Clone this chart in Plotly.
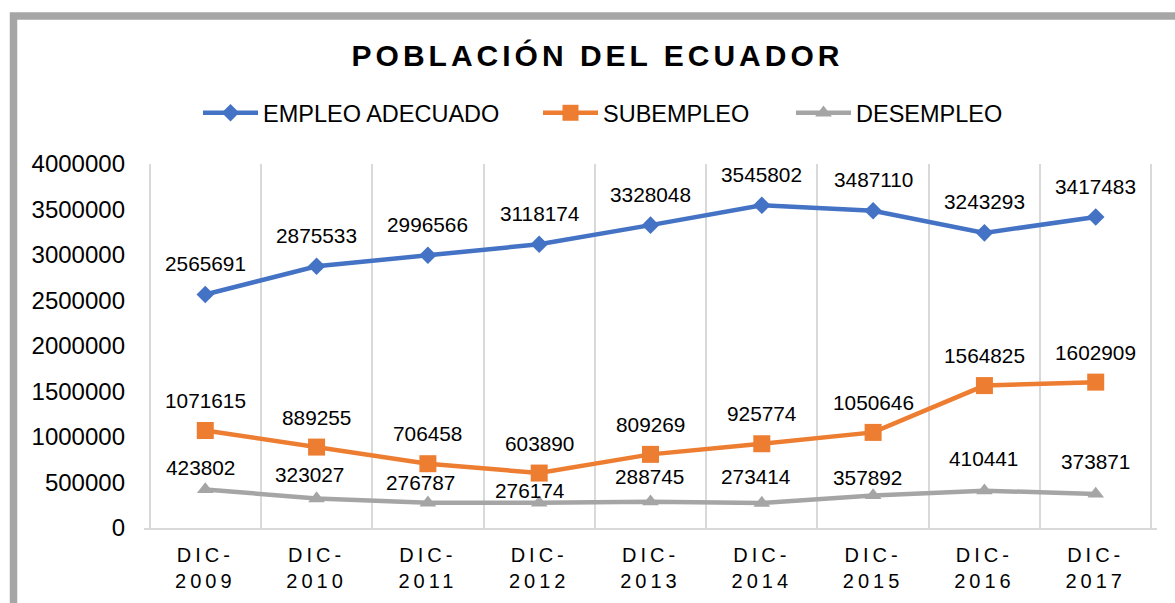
import plotly.graph_objects as go

# ---------------- data ----------------
categories = ["DIC-2009", "DIC-2010", "DIC-2011", "DIC-2012", "DIC-2013",
              "DIC-2014", "DIC-2015", "DIC-2016", "DIC-2017"]
empleo_adecuado = [2565691, 2875533, 2996566, 3118174, 3328048, 3545802, 3487110, 3243293, 3417483]
subempleo = [1071615, 889255, 706458, 603890, 809269, 925774, 1050646, 1564825, 1602909]
desempleo = [423802, 323027, 276787, 276174, 288745, 273414, 357892, 410441, 373871]
series_names = ["EMPLEO ADECUADO", "SUBEMPLEO", "DESEMPLEO"]
title_text = "POBLACIÓN DEL ECUADOR"
y_ticks = [0, 500000, 1000000, 1500000, 2000000, 2500000, 3000000, 3500000, 4000000]

# ---------------- style ----------------
W, H = 1175, 603
PLOT_L, PLOT_R, PLOT_T, PLOT_B = 144, 1157, 164, 528
ML, MR, MT, MB = PLOT_L, W - PLOT_R, PLOT_T, H - PLOT_B
PW, PH = PLOT_R - PLOT_L, PLOT_B - PLOT_T
FONT = "Liberation Sans, Arial, sans-serif"
colors = ["#4472C4", "#ED7D31", "#A5A5A5"]
symbols = ["diamond", "square", "triangle-up"]
msizes = [13.5, 17, 14.5]
label_yshift = [[31] * 9, [30] * 9, [22, 24, 20, 12, 25, 27, 18, 32, 32]]
label_xshift = [[0] * 9, [0] * 9, [-5, -7, -7, -10, -1, -6, -6, -1, 0]]
legend_px = [198, 538, 791]  # pixel x of each legend block


def spaced(s, px):
    return f'<span style="letter-spacing:{px}px">{s}</span>'


x_labels = [spaced(c.split("-")[0] + "-", 4) + "<br>" + spaced(c.split("-")[1], 4) for c in categories]


def ref_x(px):
    return (px - PLOT_L) / PW


def ref_y(py):
    return (PLOT_B - py) / PH


fig = go.Figure()
all_values = [empleo_adecuado, subempleo, desempleo]
legend_ids = ["legend", "legend2", "legend3"]
for i, (name, vals) in enumerate(zip(series_names, all_values)):
    fig.add_trace(go.Scatter(
        x=x_labels, y=vals, mode="lines+markers", name=name,
        line=dict(color=colors[i], width=4.5),
        marker=dict(symbol=symbols[i], size=msizes[i], color=colors[i]),
        legend=legend_ids[i], cliponaxis=False,
    ))
    for j, v in enumerate(vals):
        fig.add_annotation(
            x=x_labels[j], y=v, text=str(v), showarrow=False,
            xanchor="center", yanchor="middle",
            yshift=label_yshift[i][j], xshift=label_xshift[i][j],
            font=dict(family=FONT, size=20.8, color="#000000"),
        )

# chart frame (grey border, partly cropped)
fig.add_shape(type="rect", xref="paper", yref="paper",
              x0=ref_x(13.5), x1=ref_x(1215),
              y0=ref_y(650), y1=ref_y(16),
              line=dict(color="#A6A6A6", width=7.5), layer="below")

legend_common = dict(
    orientation="h", yanchor="middle", xanchor="left",
    y=ref_y(113), font=dict(family=FONT, size=23.5, color="#000000"),
    bgcolor="rgba(0,0,0,0)", borderwidth=0, itemwidth=55,
)

fig.update_layout(
    width=W, height=H,
    margin=dict(l=ML, r=MR, t=MT, b=MB, autoexpand=False),
    paper_bgcolor="#FFFFFF", plot_bgcolor="#FFFFFF",
    font=dict(family=FONT, color="#000000"),
    title=dict(text=spaced(title_text, 4), x=ref_x(597.5), xref="paper",
               xanchor="center", y=1 - 55 / H, yref="container", yanchor="middle",
               font=dict(family=FONT, size=30, color="#000000", weight="bold")),
    legend=dict(x=ref_x(legend_px[0]), **legend_common),
    legend2=dict(x=ref_x(legend_px[1]), **legend_common),
    legend3=dict(x=ref_x(legend_px[2]), **legend_common),
    showlegend=True,
    xaxis=dict(type="category", tickson="boundaries", showgrid=True, gridcolor="#D9D9D9",
               gridwidth=1.5, ticks="", showline=True, linecolor="#D9D9D9", linewidth=1.5,
               tickfont=dict(family=FONT, size=20, color="#000000"), ticklabelstandoff=8,
               zeroline=False, fixedrange=True, automargin=False),
    yaxis=dict(range=[0, 4000000], tickvals=y_ticks, ticktext=[str(t) for t in y_ticks],
               showgrid=False, zeroline=False, ticks="", showline=False,
               tickfont=dict(family=FONT, size=24, color="#000000"), ticklabelstandoff=18,
               fixedrange=True, automargin=False),
)

fig.write_html(
    "out.html",
    config={"displayModeBar": False},
    post_script="document.body.style.margin='0';document.body.style.overflow='hidden';",
)
